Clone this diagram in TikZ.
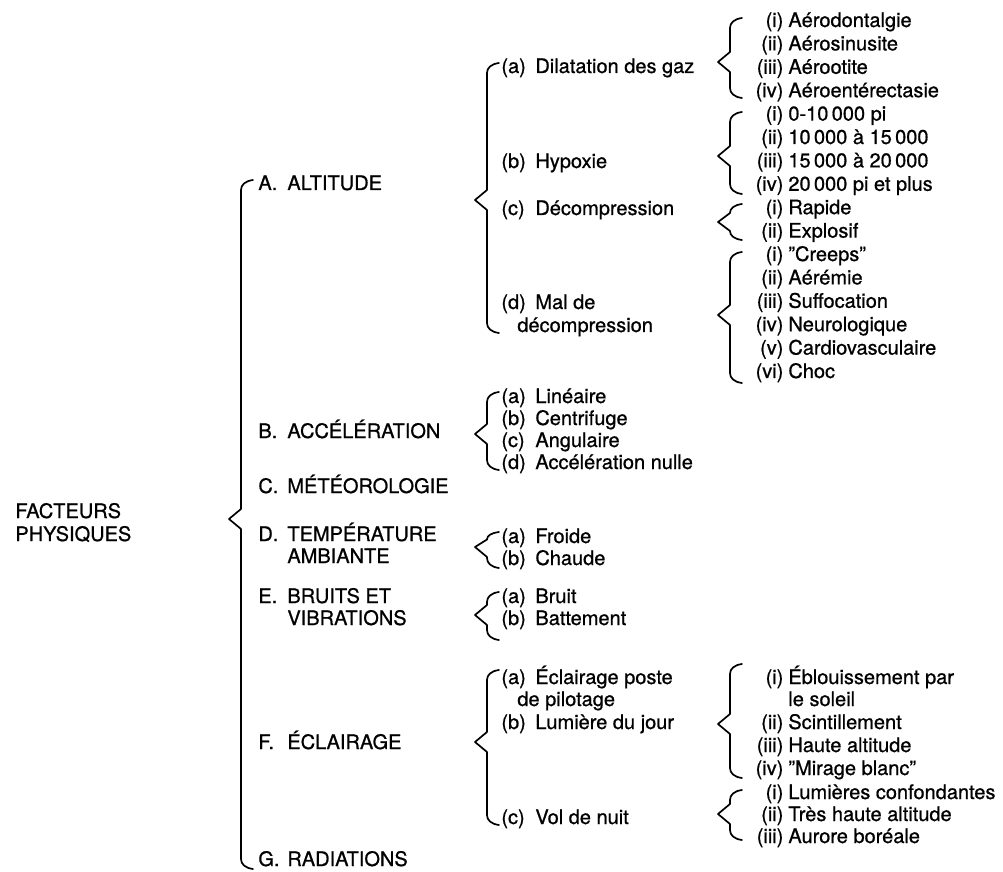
\documentclass[tikz,border=0pt]{standalone}
\usepackage{fontspec}
\setmainfont[FakeBold=0.8]{TeX Gyre Heros}
\tikzstyle{entry}=[anchor=base west, inner sep=0pt, font=\fontsize{10}{11.5}\selectfont]
\tikzstyle{accol}=[draw, line width=0.85pt, line join=round, line cap=round]
\newcommand{\lettre}[1]{\makebox[14.5pt][l]{#1}}
\newcommand{\sous}[1]{\makebox[17pt][l]{#1}}
\newcommand{\rom}[1]{\makebox[16.5pt][r]{#1}\hspace{2.5pt}}
% name, x of bar, y top, y tip, y bottom
\newcommand{\accolade}[5]{%
  \coordinate (#1t) at (#2+12,#3);
  \coordinate (#1m) at (#2-12,#4);
  \coordinate (#1b) at (#2+12,#5);
  \pgfmathsetmacro\hA{min(10,(#4-#3)/2)}
  \pgfmathsetmacro\hB{min(10,(#5-#4)/2)}
  \draw[accol] (#1t) .. controls +(-8,1) and +(0,-\hA/2) .. (#2,#3+\hA)
    -- (#2,#4-\hA) -- (#1m) -- (#2,#4+\hB) -- (#2,#5-\hB)
    .. controls +(0,\hB/2) and +(-8,-1) .. (#1b);}

\begin{document}
\begin{tikzpicture}[x=0.5pt,y=-0.5pt]
\useasboundingbox (0,0) rectangle (1003,872);
% racine
\node[entry] (root) at (15,518) {FACTEURS};
\node[entry] (root2) at (15,541) {PHYSIQUES};
\accolade{root}{241}{180}{519}{869}
% premier niveau
\node[entry] (A) at (258,190) {\lettre{A.}ALTITUDE};
\node[entry] (B) at (258,438) {\lettre{B.}ACCÉLÉRATION};
\node[entry] (C) at (258,493) {\lettre{C.}MÉTÉOROLOGIE};
\node[entry] (D) at (258,541) {\lettre{D.}TEMPÉRATURE};
\node[entry] (D2) at (287,563) {AMBIANTE};
\node[entry] (E) at (258,603) {\lettre{E.}BRUITS ET};
\node[entry] (E2) at (287,625) {VIBRATIONS};
\node[entry] (F) at (258,749) {\lettre{F.}ÉCLAIRAGE};
\node[entry] (G) at (258,866) {\lettre{G.}RADIATIONS};
% A. altitude
\accolade{A}{487}{63}{200}{333}
\node[entry] (Aa) at (501,73) {\sous{(a)}Dilatation des gaz};
\node[entry] (Ab) at (501,168) {\sous{(b)}Hypoxie};
\node[entry] (Ac) at (501,215) {\sous{(c)}Décompression};
\node[entry] (Ad) at (501,309) {\sous{(d)}Mal de};
\node[entry] (Ad2) at (517,332) {décompression};
\accolade{Aa}{730}{18}{62}{98}
\node[entry] (Aa1) at (750,27) {\rom{(i)}Aérodontalgie};
\node[entry] (Aa2) at (750,50.4) {\rom{(ii)}Aérosinusite};
\node[entry] (Aa3) at (750,73.8) {\rom{(iii)}Aérootite};
\node[entry] (Aa4) at (750,97.2) {\rom{(iv)}Aéroentérectasie};
\accolade{Ab}{730}{112}{156}{194}
\node[entry] (Ab1) at (750,120.6) {\rom{(i)}0-10\,000 pi};
\node[entry] (Ab2) at (750,144) {\rom{(ii)}10\,000 à 15\,000};
\node[entry] (Ab3) at (750,167.4) {\rom{(iii)}15\,000 à 20\,000};
\node[entry] (Ab4) at (750,190.8) {\rom{(iv)}20\,000 pi et plus};
\accolade{Ac}{730}{204}{222}{240}
\node[entry] (Ac1) at (750,214.2) {\rom{(i)}Rapide};
\node[entry] (Ac2) at (750,237.6) {\rom{(ii)}Explosif};
\accolade{Ad}{730}{252}{315}{383}
\node[entry] (Ad1) at (750,261) {\rom{(i)}''Creeps''};
\node[entry] (Ad2) at (750,284.4) {\rom{(ii)}Aérémie};
\node[entry] (Ad3) at (750,307.8) {\rom{(iii)}Suffocation};
\node[entry] (Ad4) at (750,331.2) {\rom{(iv)}Neurologique};
\node[entry] (Ad5) at (750,354.6) {\rom{(v)}Cardiovasculaire};
\node[entry] (Ad6) at (750,378) {\rom{(vi)}Choc};
% B. acceleration
\accolade{B}{487}{392}{434}{470}
\node[entry] (Ba) at (501,403) {\sous{(a)}Linéaire};
\node[entry] (Bb) at (501,425) {\sous{(b)}Centrifuge};
\node[entry] (Bc) at (501,447) {\sous{(c)}Angulaire};
\node[entry] (Bd) at (501,469) {\sous{(d)}Accélération nulle};
% D. temperature
\accolade{D}{487}{532}{547}{568}
\node[entry] (Da) at (501,543) {\sous{(a)}Froide};
\node[entry] (Db) at (501,565) {\sous{(b)}Chaude};
% E. bruits
\accolade{E}{487}{592}{615}{640}
\node[entry] (Ea) at (501,603) {\sous{(a)}Bruit};
\node[entry] (Eb) at (501,625) {\sous{(b)}Battement};
% F. eclairage
\accolade{F}{487}{670}{742}{825}
\node[entry] (Fa) at (501,684) {\sous{(a)}Éclairage poste};
\node[entry] (Fa2) at (517,706) {de pilotage};
\node[entry] (Fb) at (501,729) {\sous{(b)}Lumière du jour};
\node[entry] (Fc) at (501,824) {\sous{(c)}Vol de nuit};
\accolade{Fb}{730}{664}{724}{778}
\node[entry] (Fb1) at (750,684) {\rom{(i)}Éblouissement par};
\node[entry] (Fb1b) at (788,706) {le soleil};
\node[entry] (Fb2) at (750,729) {\rom{(ii)}Scintillement};
\node[entry] (Fb3) at (750,752) {\rom{(iii)}Haute altitude};
\node[entry] (Fb4) at (750,775) {\rom{(iv)}''Mirage blanc''};
\accolade{Fc}{730}{790}{814}{840}
\node[entry] (Fc1) at (750,799) {\rom{(i)}Lumières confondantes};
\node[entry] (Fc2) at (750,821) {\rom{(ii)}Très haute altitude};
\node[entry] (Fc3) at (750,843) {\rom{(iii)}Aurore boréale};
\end{tikzpicture}
\end{document}
